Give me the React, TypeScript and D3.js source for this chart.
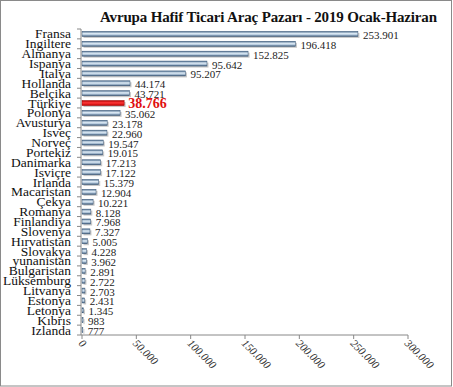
import React, { useEffect, useRef } from "react";
import * as d3 from "d3";

const countries = [
  "Fransa", "Ingiltere", "Almanya", "Ispanya", "Italya", "Hollanda", "Belçika",
  "Türkiye", "Polonya", "Avusturya", "Isveç", "Norveç", "Portekiz", "Danimarka",
  "Isviçre", "Irlanda", "Macaristan", "Çekya", "Romanya", "Finlandiya", "Slovenya",
  "Hırvatistan", "Slovakya", "yunanistan", "Bulgaristan", "Lüksemburg", "Litvanya",
  "Estonya", "Letonya", "Kıbrıs", "Izlanda",
];

// bar lengths as drawn (the Ispanya bar is longer than its label says)
const barValues = [
  253901, 196418, 152825, 115000, 95207, 44174, 43721, 38766, 35062, 23178,
  22960, 19547, 19015, 17213, 17122, 15379, 12904, 10221, 8128, 7968, 7327,
  5005, 4228, 3962, 2891, 2722, 2703, 2431, 1345, 983, 777,
];

const labelValues = [
  253901, 196418, 152825, 95642, 95207, 44174, 43721, 38766, 35062, 23178,
  22960, 19547, 19015, 17213, 17122, 15379, 12904, 10221, 8128, 7968, 7327,
  5005, 4228, 3962, 2891, 2722, 2703, 2431, 1345, 983, 777,
];

const xTicks = [0, 50000, 100000, 150000, 200000, 250000, 300000];
const highlight = "Türkiye";
const title = "Avrupa  Hafif Ticari  Araç Pazarı - 2019 Ocak-Haziran";

const W = 453;
const H = 387;
const FONT = "'Liberation Serif', 'DejaVu Serif', serif";

const fmt = (v: number) =>
  String(v).replace(/\B(?=(\d{3})+(?!\d))/g, ".");

export default function App() {
  const svgRef = useRef<SVGSVGElement | null>(null);

  useEffect(() => {
    const svg = d3.select(svgRef.current);
    svg.selectAll("*").remove();

    const x = d3.scaleLinear().domain([0, 300000]).range([82, 408]);
    const y = d3.scaleBand().domain(countries).range([29, 335]);
    const barH = 5;

    const defs = svg.append("defs");
    const blue = defs.append("linearGradient").attr("id", "gBlue")
      .attr("x1", 0).attr("y1", 0).attr("x2", 0).attr("y2", 1);
    blue.append("stop").attr("offset", "0%").attr("stop-color", "#4d6d8e");
    blue.append("stop").attr("offset", "40%").attr("stop-color", "#dbe8f3");
    blue.append("stop").attr("offset", "65%").attr("stop-color", "#b9cde0");
    blue.append("stop").attr("offset", "100%").attr("stop-color", "#3b5878");
    const red = defs.append("linearGradient").attr("id", "gRed")
      .attr("x1", 0).attr("y1", 0).attr("x2", 0).attr("y2", 1);
    red.append("stop").attr("offset", "0%").attr("stop-color", "#b00000");
    red.append("stop").attr("offset", "45%").attr("stop-color", "#ff3a3a");
    red.append("stop").attr("offset", "100%").attr("stop-color", "#c00000");

    // frame
    svg.append("rect")
      .attr("x", 0.5).attr("y", 0.5).attr("width", W - 2).attr("height", H - 1.5)
      .attr("fill", "#fff").attr("stroke", "#8a8a8a");

    // title
    svg.append("text")
      .attr("x", 100).attr("y", 22)
      .attr("textLength", 337)
      .attr("font-family", FONT).attr("font-weight", "bold").attr("font-size", 15)
      .attr("fill", "#111")
      .text(title);

    const data = countries.map((c, i) => ({ c, bar: barValues[i], lab: labelValues[i] }));
    const cy = (c: string) => (y(c) as number) + y.bandwidth() / 2;

    // shadows
    svg.append("g").selectAll("rect")
      .data(data).join("rect")
      .attr("x", x(0) + 1.5)
      .attr("y", (d) => cy(d.c) - barH / 2 + 1.5)
      .attr("width", (d) => Math.max(0, x(d.bar) - x(0)))
      .attr("height", barH)
      .attr("fill", "#9a9a9a").attr("opacity", 0.55);

    // bars
    svg.append("g").selectAll("rect")
      .data(data).join("rect")
      .attr("x", x(0))
      .attr("y", (d) => cy(d.c) - barH / 2)
      .attr("width", (d) => Math.max(0, x(d.bar) - x(0)))
      .attr("height", barH)
      .attr("fill", (d) => (d.c === highlight ? "url(#gRed)" : "url(#gBlue)"))
      .attr("stroke", (d) => (d.c === highlight ? "#a00000" : "#3b5878"))
      .attr("stroke-width", 0.5);

    // value labels
    svg.append("g").selectAll("text")
      .data(data).join("text")
      .attr("x", (d) => x(d.bar) + (d.c === highlight ? 4 : 5))
      .attr("y", (d) => cy(d.c) + (d.c === highlight ? 5 : 5))
      .attr("font-family", FONT)
      .attr("font-size", (d) => (d.c === highlight ? 14 : 11))
      .attr("font-weight", (d) => (d.c === highlight ? "bold" : "normal"))
      .attr("fill", (d) => (d.c === highlight ? "#e01010" : "#222"))
      .text((d) => fmt(d.lab));

    // y axis
    const yAxis = svg.append("g");
    yAxis.append("line")
      .attr("x1", x(0) - 1).attr("x2", x(0) - 1)
      .attr("y1", 29).attr("y2", 335)
      .attr("stroke", "#888");
    yAxis.selectAll("line.tk")
      .data(countries.concat(["__end"])).join("line")
      .attr("class", "tk")
      .attr("x1", x(0) - 5).attr("x2", x(0) - 1)
      .attr("y1", (d, i) => 29 + i * y.step())
      .attr("y2", (d, i) => 29 + i * y.step())
      .attr("stroke", "#888");
    yAxis.selectAll("text")
      .data(countries).join("text")
      .attr("x", 71)
      .attr("y", (d) => cy(d) + 4.5)
      .attr("text-anchor", "end")
      .attr("font-family", FONT).attr("font-size", 13.5)
      .attr("fill", "#111")
      .text((d) => d);

    // x axis
    const xAxis = svg.append("g");
    xAxis.append("line")
      .attr("x1", x(0) - 1).attr("x2", x(300000))
      .attr("y1", 335).attr("y2", 335)
      .attr("stroke", "#888");
    xAxis.selectAll("line.tk")
      .data(xTicks).join("line")
      .attr("class", "tk")
      .attr("x1", (d) => x(d)).attr("x2", (d) => x(d))
      .attr("y1", 335).attr("y2", 339)
      .attr("stroke", "#888");
    xAxis.selectAll("text")
      .data(xTicks).join("text")
      .attr("transform", (d) => `translate(${x(d) - 4},${344}) rotate(45)`)
      .attr("font-family", FONT).attr("font-size", 11).attr("font-style", "italic")
      .attr("fill", "#333")
      .text((d) => fmt(d));
  }, []);

  return (
    <svg
      ref={svgRef}
      width={W}
      height={H}
      style={{ position: "absolute", left: 0, top: 0, background: "#fff" }}
    ></svg>
  );
}
